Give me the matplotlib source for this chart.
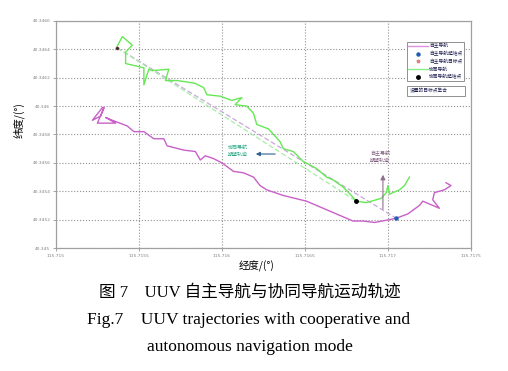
import matplotlib.pyplot as plt
from matplotlib.patches import Rectangle
import numpy as np

plt.rcParams['font.family'] = ['Noto Sans CJK SC', 'DejaVu Sans']

# 协同导航轨迹 (经度, 纬度)
coop_lon = [115.71536, 115.71540, 115.71546, 115.71542, 115.71542, 115.71553, 115.71553,
            115.71556, 115.71558, 115.71568, 115.71566, 115.71573, 115.71579, 115.71584,
            115.71589, 115.71591, 115.71599, 115.71606, 115.71612, 115.71608, 115.71615,
            115.71619, 115.71621, 115.71628, 115.71635, 115.71637, 115.71643, 115.71649,
            115.71657, 115.71663, 115.71667, 115.71673, 115.71678, 115.71681, 115.71687,
            115.71696, 115.71699, 115.71700, 115.71701, 115.71707, 115.71710, 115.71712,
            115.71713]
coop_lat = [40.34640, 40.34649, 40.34643, 40.34638, 40.34630, 40.34627, 40.34615,
            40.34626, 40.34625, 40.34626, 40.34618, 40.34618, 40.34617, 40.34616,
            40.34613, 40.34608, 40.34607, 40.34604, 40.34606, 40.34601, 40.34600,
            40.34595, 40.34587, 40.34584, 40.34575, 40.34570, 40.34568, 40.34561,
            40.34556, 40.34550, 40.34548, 40.34543, 40.34537, 40.34533, 40.34532,
            40.34535, 40.34539, 40.34544, 40.34538, 40.34541, 40.34544, 40.34548,
            40.34550]

# 自主导航轨迹
auto_lon = [115.71528, 115.71522, 115.71527, 115.71529, 115.71525, 115.71536, 115.71530,
            115.71534, 115.71543, 115.71547, 115.71553, 115.71559, 115.71565, 115.71567,
            115.71577, 115.71584, 115.71587, 115.71590, 115.71595, 115.71600, 115.71607,
            115.71613, 115.71619, 115.71623, 115.71627, 115.71637, 115.71651, 115.71665,
            115.71679, 115.71685, 115.71692, 115.71701, 115.71705, 115.71712, 115.71719,
            115.71721, 115.71731, 115.71727, 115.71728, 115.71734, 115.71738, 115.71735]
auto_lat = [40.34599, 40.34590, 40.34593, 40.34599, 40.34588, 40.34588, 40.34592,
            40.34590, 40.34586, 40.34582, 40.34582, 40.34577, 40.34577, 40.34572,
            40.34569, 40.34568, 40.34562, 40.34565, 40.34563, 40.34560, 40.34554,
            40.34553, 40.34550, 40.34544, 40.34541, 40.34537, 40.34533, 40.34526,
            40.34519, 40.34519, 40.34518, 40.34520, 40.34521, 40.34524, 40.34530,
            40.34533, 40.34528, 40.34534, 40.34539, 40.34541, 40.34544, 40.34546]

# 起始点 / 目标点
auto_start = (115.71705, 40.34521)
coop_start = (115.71681, 40.34533)
target = (115.71537, 40.34641)

xticks = [115.715, 115.7155, 115.716, 115.7165, 115.717, 115.7175]
xtick_labels = ['115.715', '115.7155', '115.716', '115.7165', '115.717', '115.7175']
yticks = [40.345, 40.3452, 40.3454, 40.3456, 40.3458, 40.346, 40.3462, 40.3464, 40.3466]
ytick_labels = ['40.345', '40.3452', '40.3454', '40.3456', '40.3458', '40.346',
                '40.3462', '40.3464', '40.3466']

fig = plt.figure(figsize=(5.08, 3.71), dpi=100)
ax = fig.add_axes([0.110, 0.3315, 0.817, 0.612])

# 期望轨迹 (虚线)
ax.plot([target[0], auto_start[0]], [target[1], auto_start[1]], color='#c8a8d8',
        linestyle='--', lw=0.9, dashes=(4, 2))
ax.plot([target[0], coop_start[0]], [target[1], coop_start[1]], color='#a8eca8',
        linestyle='--', lw=0.9, dashes=(4, 2))

l1, = ax.plot(auto_lon, auto_lat, color='#c860c8', lw=1.0)
l2, = ax.plot(coop_lon, coop_lat, color='#66e855', lw=1.0)
m1, = ax.plot(*auto_start, 'o', color='#2060b0', ms=2.2)
m2, = ax.plot(*target, '*', color='#e08080', ms=2.5)
m3, = ax.plot(*coop_start, 'o', color='black', ms=2.5)
ax.plot(*target, 'o', color='#303030', ms=1.2)

ax.set_xlim(115.715, 115.7175)
ax.set_ylim(40.345, 40.3466)
ax.set_xticks(xticks)
ax.set_xticklabels(xtick_labels, family='DejaVu Sans')
ax.set_yticks(yticks)
ax.set_yticklabels(ytick_labels, family='DejaVu Sans')
ax.tick_params(labelsize=3.2, colors='#808080', length=2, width=0.5, pad=2)
ax.grid(True, linestyle=':', color='#909090', lw=0.8)
for s in ax.spines.values():
    s.set_color('#a0a0a0')
    s.set_linewidth(0.9)

# 图例
leg_l1 = plt.Line2D([], [], color='#e090e0', lw=1.0)
leg_l2 = plt.Line2D([], [], color='#88ee88', lw=1.0)
leg = ax.legend([leg_l1, m1, m2, leg_l2, m3],
                ['自主导航', '自主导航起始点', '自主导航目标点', '协同导航', '协同导航起始点'],
                loc='upper right', bbox_to_anchor=(0.988, 0.918), fontsize=3.4,
                handlelength=4.2, handletextpad=0.2, borderpad=0.3, labelspacing=0.55,
                fancybox=False, edgecolor='#909090', framealpha=1)
leg.get_frame().set_linewidth(0.7)
for t in leg.get_texts():
    t.set_color('#202050')

ax.add_patch(Rectangle((0.846, 0.670), 0.140, 0.044, transform=ax.transAxes,
                       fc='white', ec='#909090', lw=0.7, zorder=5))
ax.text(0.852, 0.692, '设置的目标点集合', transform=ax.transAxes, fontsize=3.4,
        color='#202050', va='center', ha='left', zorder=6)

# 注释
ax.text(0.439, 0.427, '协同导航\n期望轨迹', transform=ax.transAxes, fontsize=3.6,
        color='#30a888', ha='center', va='center', linespacing=1.5)
ax.annotate('', xy=(0.475, 0.414), xytext=(0.535, 0.414), xycoords='axes fraction',
            arrowprops=dict(arrowstyle='-|>', color='#2f6090', lw=0.8, mutation_scale=6))
ax.text(0.781, 0.401, '自主导航\n期望轨迹', transform=ax.transAxes, fontsize=3.6,
        color='#806080', ha='center', va='center', linespacing=1.5)
ax.annotate('', xy=(0.788, 0.335), xytext=(0.788, 0.159), xycoords='axes fraction',
            arrowprops=dict(arrowstyle='-|>', color='#907090', lw=0.8, mutation_scale=7))

fig.text(257 / 508, 1 - 266 / 371, '经度/(°)', fontsize=7.5, ha='center', va='center',
         family=['Noto Sans CJK SC', 'DejaVu Sans'])
fig.text(19 / 508, 1 - 120 / 371, '纬度/(°)', fontsize=7.5, ha='center', va='center',
         rotation=90, family=['Noto Sans CJK SC', 'DejaVu Sans'])

fig.text(250 / 508, 1 - 293 / 371, '图 7    UUV 自主导航与协同导航运动轨迹', fontsize=12,
         ha='center', va='center', family=['Liberation Serif', 'Noto Sans CJK SC'])
fig.text(249 / 508, 1 - 320 / 371, 'Fig.7    UUV trajectories with cooperative and',
         fontsize=12.5, ha='center', va='center', family='Liberation Serif')
fig.text(250 / 508, 1 - 347 / 371, 'autonomous navigation mode', fontsize=12.5,
         ha='center', va='center', family='Liberation Serif')

fig.savefig('out.png', dpi=100)
